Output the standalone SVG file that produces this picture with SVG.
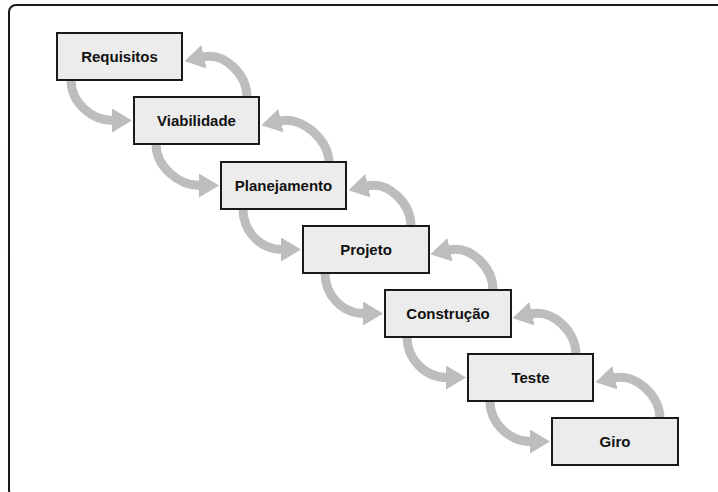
<svg xmlns="http://www.w3.org/2000/svg" width="718" height="492" viewBox="0 0 718 492">
  <style>
    .frame { fill: #ffffff; stroke: #1a1a1a; stroke-width: 2; }
    .box { fill: #ececec; stroke: #1a1a1a; stroke-width: 2; }
    .lbl { font-family: "Liberation Sans", Arial, sans-serif; font-weight: bold; font-size: 15px; fill: #111111; text-anchor: middle; }
    .arc { fill: none; stroke: #bcbdbf; stroke-width: 9; marker-end: url(#head); }
  </style>
  <defs>
    <marker id="head" markerUnits="userSpaceOnUse" viewBox="0 0 20 24" markerWidth="20" markerHeight="24" refX="1" refY="12" orient="auto">
      <path d="M0,0 L20,12 L0,24 Z" fill="#bcbdbf"/>
    </marker>
  </defs>
  <rect class="frame" x="9" y="5" width="730" height="492" rx="7"/>
  <g id="connectors">
    <path class="arc" d="M71,80 C71,102 91,120.5 113,120.5"/>
    <path class="arc" d="M156,144 C156,166 178,185.5 200,185.5"/>
    <path class="arc" d="M243,209 C243,231 260,249.5 282,249.5"/>
    <path class="arc" d="M325,273 C325,295 342,313.5 364,313.5"/>
    <path class="arc" d="M407,337 C407,359 425,377.5 447,377.5"/>
    <path class="arc" d="M490,401 C490,423 509,441.5 531,441.5"/>
    <path class="arc" d="M247,97 C247,75 225,52 203,57"/>
    <path class="arc" d="M329,162 C329,140 302,116 280,121"/>
    <path class="arc" d="M411,226 C411,204 389,181 367,186"/>
    <path class="arc" d="M493,290 C493,268 471,245 449,250"/>
    <path class="arc" d="M576,354 C576,332 553,309 531,314"/>
    <path class="arc" d="M660,418 C660,396 636,373 614,378"/>
  </g>
  <g id="requisitos">
    <rect class="box" x="57" y="33" width="125" height="47"/>
    <text class="lbl" x="119.5" y="61.5">Requisitos</text>
  </g>
  <g id="viabilidade">
    <rect class="box" x="134" y="97" width="125" height="47"/>
    <text class="lbl" x="196.5" y="125.5">Viabilidade</text>
  </g>
  <g id="planejamento">
    <rect class="box" x="221" y="162" width="125" height="47"/>
    <text class="lbl" x="283.5" y="190.5">Planejamento</text>
  </g>
  <g id="projeto">
    <rect class="box" x="303" y="226" width="126" height="47"/>
    <text class="lbl" x="366" y="254.5">Projeto</text>
  </g>
  <g id="construcao">
    <rect class="box" x="385" y="290" width="126" height="47"/>
    <text class="lbl" x="448" y="318.5">Construção</text>
  </g>
  <g id="teste">
    <rect class="box" x="468" y="354" width="125" height="47"/>
    <text class="lbl" x="530.5" y="382.5">Teste</text>
  </g>
  <g id="giro">
    <rect class="box" x="552" y="418" width="126" height="47"/>
    <text class="lbl" x="615" y="446.5">Giro</text>
  </g>
</svg>
